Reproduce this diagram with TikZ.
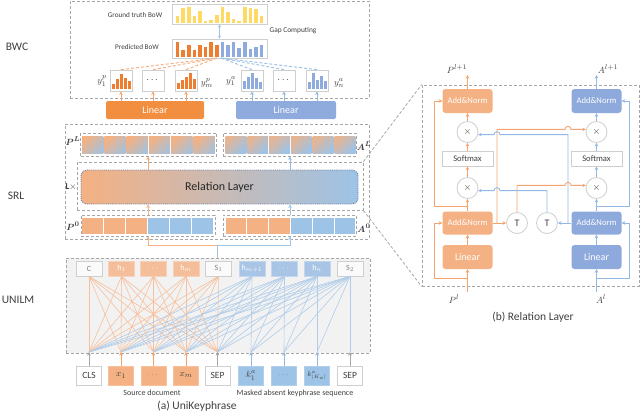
\documentclass[tikz,border=0pt]{standalone}
\usepackage{amsmath}
\usepackage{fontspec}
\setmainfont{Carlito}
\usetikzlibrary{arrows.meta}
\definecolor{peach}{HTML}{F4B183}
\definecolor{lblue}{HTML}{9DC3E6}
\definecolor{orgL}{HTML}{F28E3F}
\definecolor{bluL}{HTML}{8FAADC}
\definecolor{yel}{HTML}{FFD966}
\definecolor{obar}{HTML}{ED7D31}
\definecolor{bbar}{HTML}{8FAADC}
\definecolor{dgray}{HTML}{A6A6A6}
\definecolor{lgray}{HTML}{CFCFCF}
\definecolor{bgray}{HTML}{F2F2F2}
\definecolor{tgray}{HTML}{404040}
\definecolor{hor}{HTML}{F4BE9A}
\definecolor{hbl}{HTML}{A9C5E6}
\definecolor{olin}{HTML}{F6C09C}
\definecolor{blin}{HTML}{B0CCEA}
\definecolor{oarc}{HTML}{F4A46C}
\definecolor{barc}{HTML}{93B8E4}
\definecolor{rlb}{HTML}{6F7FA0}
\definecolor{addb}{HTML}{8EA9DB}
\newcommand\myfs[1]{\fontsize{#1}{#1}\selectfont}
\newcommand\minihist[3]{\foreach \h [count=\i from 0] in {#3} \fill[#2] ({#1-8.9+\i*4},89) rectangle ++(2.9,-\h);}
\begin{document}
\begin{tikzpicture}[x=1pt,y=-1pt,
  every node/.style={text=tgray},
  dbox/.style={draw=dgray, dash pattern=on 3pt off 2pt, line width=0.8pt},
  dboxn/.style={dbox, inner sep=0pt},
  hist/.style={draw=lgray, fill=white, line width=0.7pt, minimum width=22pt, minimum height=21pt, inner sep=0pt},
  tip/.style={-{Stealth[length=3.6pt,width=3.6pt]}},
  oa/.style={tip, draw=oarc, line width=0.9pt},
  ba/.style={tip, draw=barc, line width=0.9pt},
  oal/.style={tip, draw=peach, line width=0.9pt},
  bal/.style={tip, draw=lblue, line width=0.9pt},
  ga/.style={tip, draw=lgray!80!black, line width=0.9pt},
  odash/.style={draw=peach, line width=1pt, dash pattern=on 3pt off 2pt},
  bdash/.style={draw=lblue, line width=1pt, dash pattern=on 3pt off 2pt},
  oline/.style={draw=olin, line width=0.6pt},
  bline/.style={draw=blin, line width=0.6pt},
  tnode/.style={minimum width=26pt, minimum height=15pt, inner sep=0pt, line width=0.7pt, font=\myfs{8}},
  tg/.style={tnode, draw=lgray, fill=white!60!bgray, text=gray},
  to/.style={tnode, draw=hor!70!white, fill=hor, text=white},
  tb/.style={tnode, draw=hbl!70!white, fill=hbl, text=white},
  bnode/.style={minimum width=25pt, minimum height=19pt, inner sep=0pt, line width=0.7pt, font=\myfs{9.5}},
  bg/.style={bnode, draw=lgray, fill=white},
  bo/.style={bnode, draw=peach!80!white, fill=peach},
  bb/.style={bnode, draw=lblue!80!white, fill=lblue},
  abox/.style={minimum width=50pt, minimum height=24pt, inner sep=0pt, rounded corners=3pt, text=white, font=\myfs{8.6}},
  sbox/.style={draw=lgray, line width=0.8pt, fill=white, minimum width=51pt, minimum height=15pt, inner sep=0pt, font=\myfs{8.6}},
  cnode/.style={circle, draw=lgray, line width=0.8pt, fill=white, minimum size=21pt, inner sep=0pt, font=\myfs{10}},
  lab/.style={font=\myfs{9.5}, inner sep=1pt}
]
\useasboundingbox (0,0) rectangle (640,415);

% ---------- side labels
\node[font=\myfs{11.5}] (lbwc) at (17,47) {BWC};
\node[font=\myfs{11.5}] (lsrl) at (16,196) {SRL};
\node[font=\myfs{11.5}] (lunilm) at (18,300) {UNILM};

% ---------- BWC
\node[dboxn, minimum width=299pt, minimum height=97pt] (bwc) at (219.5,49.5) {};
\node[draw=lgray, fill=white, line width=0.7pt, minimum width=95pt, minimum height=20pt, inner sep=0pt] (gt) at (219.5,14) {};
\foreach \h [count=\i from 0] in {7,15,16,7,12,2,3,8,16,11,4,2,16,15,14,7}
  \fill[yel] ({175.7+\i*5.6},22.5) rectangle ++(3.6,-\h);
\node[draw=lgray, fill=white, line width=0.7pt, minimum width=95pt, minimum height=19pt, inner sep=0pt] (pb) at (219.5,48.5) {};
\foreach \h [count=\i from 0] in {15,7,12,7,12,10,15,12}
  \fill[obar] ({175.7+\i*5.6},56.5) rectangle ++(3.6,-\h);
\foreach \h [count=\i from 8] in {15,12,15,9,15,8,10,12}
  \fill[bbar] ({175.7+\i*5.6},56.5) rectangle ++(3.6,-\h);
\node[font=\myfs{7.2}] (gtl) at (135,15) {Ground truth BoW};
\node[font=\myfs{7.2}] (pbl) at (137,47) {Predicted BoW};
\node[font=\myfs{7.4}] (gap) at (293,31) {Gap Computing};
\draw[{Stealth[length=3pt,width=3pt]}-{Stealth[length=3pt,width=3pt]}, draw=lblue, line width=0.9pt] (gt.south) -- (pb.north);

\node[hist] (y1) at (121,80.5) {};
\node[hist] (y2) at (153,80.5) {$\cdots$};
\node[hist] (y3) at (186,80.5) {};
\node[hist] (y4) at (252,80.5) {};
\node[hist] (y5) at (284,80.5) {$\cdots$};
\node[hist] (y6) at (317,80.5) {};
\minihist{121}{obar}{5,10,15,11,8}
\minihist{186}{obar}{6,9,12,16,10}
\minihist{252}{bbar}{8,12,16,11,7}
\minihist{317}{bbar}{7,16,9,13,8}
\coordinate (pbo) at (217,58);
\coordinate (pbb) at (221,58);
\foreach \n in {y1,y2,y3} \draw[odash] (\n.north) -- (pbo);
\foreach \n in {y4,y5,y6} \draw[bdash] (\n.north) -- (pbb);
\node[lab] (ly1) at (102,81) {$y_1^{p}$};
\node[lab] (ly2) at (207,83) {$y_m^{p}$};
\node[lab] (ly3) at (231,81) {$y_1^{a}$};
\node[lab] (ly4) at (339,83) {$y_n^{a}$};

% ---------- Linear (top)
\node[fill=orgL, rounded corners=2pt, minimum width=98pt, minimum height=18pt, inner sep=0pt, text=white, font=\myfs{10}] (linP) at (155,110) {Linear};
\node[fill=bluL, rounded corners=2pt, minimum width=100pt, minimum height=18pt, inner sep=0pt, text=white, font=\myfs{10}] (linA) at (286,110) {Linear};
\foreach \n in {y1,y2,y3} \draw[oa] (linP.north -| \n) -- (\n.south);
\foreach \n in {y4,y5,y6} \draw[ba] (linA.north -| \n) -- (\n.south);

% ---------- SRL
\node[dboxn, minimum width=304pt, minimum height=115pt] (srl) at (217,181.5) {};
\node[dboxn, minimum width=136pt, minimum height=23pt] (plrow) at (148.5,144.5) {};
\node[dboxn, minimum width=133pt, minimum height=23pt] (alrow) at (289.5,144.5) {};
\foreach \i in {0,...,5}
  \shade[top color=peach, bottom color=lblue!85!peach, shading angle=45] ({82+\i*22.3},136) rectangle ++(21.3,17.5);
\foreach \i in {0,...,5}
  \shade[top color=peach!85!lblue, bottom color=lblue, shading angle=45] ({225.5+\i*21.8},136) rectangle ++(20.8,17.5);
\node[dboxn, minimum width=286pt, minimum height=48pt] (lx) at (220,186) {};
\node[rounded corners=6pt, left color=peach, right color=lblue, draw=rlb, densely dotted, line width=0.9pt, minimum width=277pt, minimum height=34pt, inner sep=0pt, font=\myfs{12}, text=black!85] (rl) at (219.5,187) {Relation Layer};
\node[dboxn, minimum width=134pt, minimum height=21pt] (p0row) at (148,225.5) {};
\node[dboxn, minimum width=133pt, minimum height=21pt] (a0row) at (289.5,225.5) {};
\foreach \i in {0,1,2} \fill[peach] ({82+\i*22},218) rectangle ++(21,16);
\foreach \i in {3,4,5} \fill[lblue] ({82+\i*22},218) rectangle ++(21,16);
\foreach \i in {0,1,2} \fill[peach] ({225.5+\i*21.8},218) rectangle ++(20.8,16);
\foreach \i in {3,4,5} \fill[lblue] ({225.5+\i*21.8},218) rectangle ++(20.8,16);
\node[lab] (lpl) at (73,141) {$\boldsymbol{P^{L}}$};
\node[lab] (lal) at (364,146) {$\boldsymbol{A^{L}}$};
\node[lab, font=\myfs{9}, inner sep=0pt] (llx) at (71,187) {$\mathbf{L}{\times}$};
\node[lab] (lp0) at (73,226) {$\boldsymbol{P^{0}}$};
\node[lab] (la0) at (364,228) {$\boldsymbol{A^{0}}$};
\coordinate (cP) at (148,0);
\coordinate (cA) at (290,0);
\coordinate (cJ) at (217.3,245);
\draw[oa] (rl.north -| cP) -- (plrow.south -| cP);
\draw[ba] (rl.north -| cA) -- (alrow.south -| cA);
\draw[oal] (p0row.north -| cP) -- (rl.south -| cP);
\draw[bal] (a0row.north -| cA) -- (rl.south -| cA);

% ---------- UNILM
\node[dboxn, fill=bgray, minimum width=304pt, minimum height=95pt] (unilm) at (218,305.5) {};
\draw[bal] (cJ) -| (a0row.south -| cA);
\draw[oal] (cJ) -| (p0row.south -| cP);
\draw[draw=lblue, line width=0.9pt] (unilm.north -| cJ) -- (cJ);

\node[tg] (t1) at (89,268.5) {C};
\node[to] (t2) at (121.5,268.5) {h$_1$};
\node[to] (t3) at (153.5,268.5) {$\cdots$};
\node[to] (t4) at (186,268.5) {h$_m$};
\node[tg] (t5) at (218.5,268.5) {S$_1$};
\node[tb] (t6) at (252,268.5) {h$_{m+1}$};
\node[tb] (t7) at (284.5,268.5) {$\cdots$};
\node[tb] (t8) at (317,268.5) {h$_n$};
\node[tg] (t9) at (350,268.5) {S$_2$};
\foreach \x [count=\i] in {89,121,153.5,186,217.5,251,284,317,350}
  \coordinate (p\i) at (\x,352);
\foreach \j in {1,...,5} \foreach \i in {1,...,5} \draw[oline] (t\j.south) -- (p\i);
\foreach \j in {6,...,9} \foreach \i in {1,...,\j} \draw[bline] (t\j.south) -- (p\i);

\node[bg] (b1) at (89,375.5) {CLS};
\node[bo] (b2) at (121,375.5) {$x_1$};
\node[bo] (b3) at (153.5,375.5) {\textcolor{gray}{$\cdots$}};
\node[bo] (b4) at (186,375.5) {$x_m$};
\node[bg] (b5) at (217.5,375.5) {SEP};
\node[bb] (b6) at (251,375.5) {$k_1^{a}$};
\node[bb] (b7) at (284,375.5) {\textcolor{gray}{$\cdots$}};
\node[bb, font=\myfs{7.5}] (b8) at (317,375.5) {$k^{a}_{|K_a|}$};
\node[bg] (b9) at (350,375.5) {SEP};
\draw[ga] (b1.north) -- (p1);
\draw[oa] (b2.north) -- (p2);
\draw[oa] (b3.north) -- (p3);
\draw[oa] (b4.north) -- (p4);
\draw[ga] (b5.north) -- (p5);
\draw[ba] (b6.north) -- (p6);
\draw[ba] (b7.north) -- (p7);
\draw[ba] (b8.north) -- (p8);
\draw[ga] (b9.north) -- (p9);
\node[font=\myfs{8}] (srcl) at (152,393) {Source document};
\node[font=\myfs{8}] (mskl) at (295,393) {Masked absent keyphrase sequence};
\node[font=\myfs{11.5}] (capa) at (197,406) {(a) UniKeyphrase};

% ---------- Relation layer detail
\node[dboxn, minimum width=217pt, minimum height=201pt] (rbox) at (530.5,185.5) {};
\draw[dbox] (lx.north east) -- (rbox.north west);
\draw[dbox] (lx.south east) -- (rbox.south west);

\node[abox, fill=peach] (aL1) at (467.5,101) {Add\&Norm};
\node[abox, fill=addb] (aR1) at (596.5,101) {Add\&Norm};
\node[cnode] (mL1) at (467.5,132) {$\times$};
\node[cnode] (mR1) at (596.5,132) {$\times$};
\node[sbox] (sL) at (467.5,158.5) {Softmax};
\node[sbox] (sR) at (596.5,158.5) {Softmax};
\node[cnode] (mL2) at (467.5,188) {$\times$};
\node[cnode] (mR2) at (596.5,188) {$\times$};
\node[abox, fill=peach, minimum height=23pt] (aL2) at (467.5,223) {Add\&Norm};
\node[abox, fill=addb, minimum height=23pt] (aR2) at (596.5,223) {Add\&Norm};
\node[cnode] (tL) at (517,223) {T};
\node[cnode] (tR) at (547,223) {T};
\node[abox, fill=peach, font=\myfs{10}] (lL) at (467.5,257) {Linear};
\node[abox, fill=addb, font=\myfs{10}] (lR) at (596.5,257) {Linear};
\coordinate (inL) at (467.5,292);
\coordinate (inR) at (596.5,292);
\coordinate (outL) at (467.5,75);
\coordinate (outR) at (596.5,75);
\node[lab] (lpl1) at (457,69) {$P^{l+1}$};
\node[lab] (lal1) at (608,69) {$A^{l+1}$};
\node[lab] (lpli) at (454,299) {$P^{l}$};
\node[lab] (lali) at (601,299) {$A^{l}$};
\node[font=\myfs{11.5}] (capb) at (533,317) {(b) Relation Layer};

% vertical flow
\draw[oa] (inL) -- (lL.south);
\draw[oa] (lL.north) -- (aL2.south);
\draw[oa] (aL2.north) -- (mL2.south);
\draw[oa] (mL2.north) -- (sL.south);
\draw[oa] (sL.north) -- (mL1.south);
\draw[oa] (mL1.north) -- (aL1.south);
\draw[oa] (aL1.north) -- (outL);
\draw[ba] (inR) -- (lR.south);
\draw[ba] (lR.north) -- (aR2.south);
\draw[ba] (aR2.north) -- (mR2.south);
\draw[ba] (mR2.north) -- (sR.south);
\draw[ba] (sR.north) -- (mR1.south);
\draw[ba] (mR1.north) -- (aR1.south);
\draw[ba] (aR1.north) -- (outR);
% residuals
\coordinate (cLr1) at (467.5,278); \coordinate (cLx1) at (434,278);
\coordinate (cLr2) at (467.5,206); \coordinate (cLx2) at (434,206);
\coordinate (cRr1) at (596.5,278); \coordinate (cRx1) at (629,278);
\coordinate (cRr2) at (596.5,206); \coordinate (cRx2) at (629,206);
\draw[oa] (cLr1) -- (cLx1) |- (aL2.west);
\draw[oa] (cLr2) -- (cLx2) |- (aL1.west);
\draw[ba] (cRr1) -- (cRx1) |- (aR2.east);
\draw[ba] (cRr2) -- (cRx2) |- (aR1.east);
% cross connections
\coordinate (oq) at (497,223);
\coordinate (bq) at (568,223);
\coordinate (bvxh) at (565,0);
\coordinate (ovxh) at (500,0);
\draw[oa] (aL2.east) -- (tL.west);
\draw[ba] (aR2.west) -- (tR.east);
\draw[oa] (oq) -- (oq |- mR1.166) -- (bvxh |- mR1.166) arc[start angle=180,end angle=360,radius=3] -- (mR1.166);
\draw[oa] (tL.north) -- (tL.north |- mR2.166) -- (bvxh |- mR2.166) arc[start angle=180,end angle=360,radius=3] -- (mR2.166);
\draw[ba] (bq) -- (bq |- mL1.346) -- (ovxh |- mL1.346) arc[start angle=0,end angle=-180,radius=3] -- (mL1.346);
\draw[ba] (tR.north) -- (tR.north |- mL2.346) -- (ovxh |- mL2.346) arc[start angle=0,end angle=-180,radius=3] -- (mL2.346);
\end{tikzpicture}
\end{document}
